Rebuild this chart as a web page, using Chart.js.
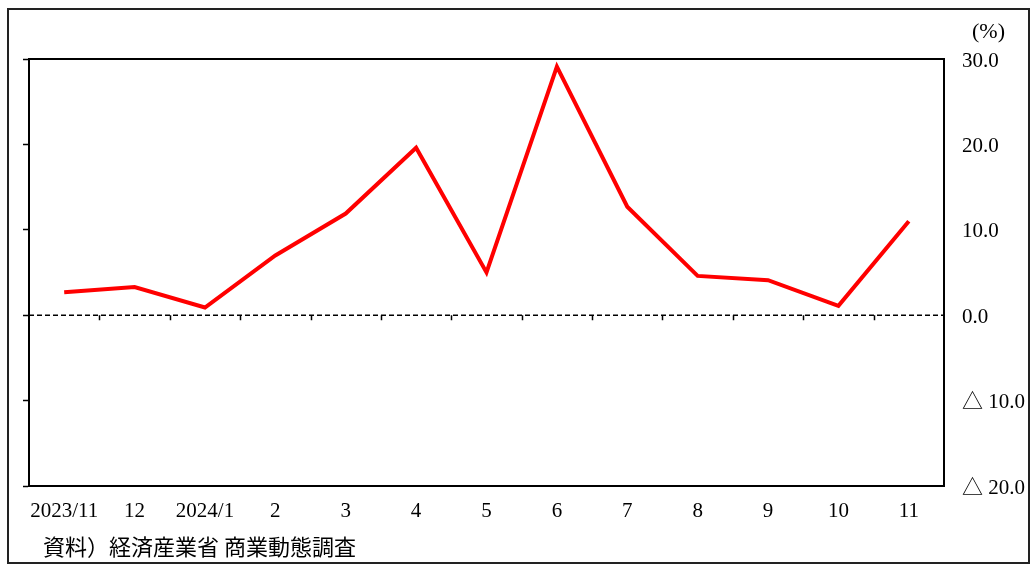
<!DOCTYPE html>
<html lang="ja">
<head>
<meta charset="utf-8">
<title>商業動態統計</title>
<script src="https://cdn.jsdelivr.net/npm/chart.js@4/dist/chart.umd.min.js"></script>
<style>
  html, body { margin: 0; padding: 0; background: #fff; }
  canvas { display: block; }
</style>
</head>
<body>
<canvas id="salesChart" width="1035" height="565"></canvas>
<script>
// Data
const categories = ['2023/11', '12', '2024/1', '2', '3', '4', '5', '6', '7', '8', '9', '10', '11'];
const growthRates = [2.7, 3.3, 0.9, 7.0, 11.9, 19.6, 5.0, 29.1, 12.7, 4.6, 4.1, 1.1, 11.0];
const yMin = -20;
const yMax = 30;
const yStep = 10;
const unitLabel = '(%)';
const sourceNote = '資料）経済産業省 商業動態調査';

const serif = "'Liberation Serif', 'Noto Sans CJK JP', serif";

// Frame, zero line, boundary ticks and texts
const framePlugin = {
  id: 'frame',
  beforeDraw(chart) {
    const ctx = chart.ctx;
    ctx.save();
    ctx.fillStyle = '#fff';
    ctx.fillRect(0, 0, chart.width, chart.height);
    ctx.strokeStyle = '#222';
    ctx.lineWidth = 2;
    ctx.strokeRect(8, 9, 1021, 554);
    ctx.restore();
  },
  beforeDatasetsDraw(chart) {
    const { ctx, chartArea } = chart;
    const x = chart.scales.x;
    const y = chart.scales.y;
    const y0 = y.getPixelForValue(0);
    ctx.save();
    // dashed zero line
    ctx.strokeStyle = '#000';
    ctx.lineWidth = 1.5;
    ctx.setLineDash([5, 3]);
    ctx.beginPath();
    ctx.moveTo(chartArea.left, y0);
    ctx.lineTo(chartArea.right, y0);
    ctx.stroke();
    ctx.setLineDash([]);
    // small ticks between categories, hanging from the zero line
    ctx.beginPath();
    for (let i = 1; i < categories.length; i++) {
      const bx = Math.round((x.getPixelForValue(i - 1) + x.getPixelForValue(i)) / 2) + 0.5;
      ctx.moveTo(bx, y0);
      ctx.lineTo(bx, y0 + 5);
    }
    ctx.stroke();
    // top edge of the plot
    ctx.lineWidth = 2;
    ctx.beginPath();
    ctx.moveTo(chartArea.left, chartArea.top);
    ctx.lineTo(chartArea.right + 1, chartArea.top);
    ctx.stroke();
    ctx.restore();
  },
  afterDraw(chart) {
    const ctx = chart.ctx;
    ctx.save();
    ctx.fillStyle = '#000';
    ctx.textBaseline = 'middle';
    ctx.font = "22px " + serif;
    ctx.fillText(unitLabel, 972, 32);
    ctx.font = "22px 'Noto Sans CJK JP', sans-serif";
    ctx.fillText(sourceNote, 43, 547);
    ctx.restore();
  }
};

new Chart(document.getElementById('salesChart'), {
  type: 'line',
  data: {
    labels: categories,
    datasets: [{
      data: growthRates,
      borderColor: '#ff0000',
      borderWidth: 4,
      pointRadius: 0,
      tension: 0,
      fill: false
    }]
  },
  options: {
    responsive: false,
    animation: false,
    layout: { padding: { top: 59, left: 0, right: 0, bottom: 0 } },
    plugins: {
      legend: { display: false },
      tooltip: { enabled: false }
    },
    scales: {
      x: {
        type: 'category',
        offset: true,
        grid: { display: false, drawTicks: false },
        border: { display: true, color: '#000', width: 2 },
        ticks: {
          color: '#000',
          font: { family: serif, size: 21 },
          padding: 13,
          autoSkip: false,
          maxRotation: 0
        },
        afterFit(scale) { scale.height = 79; }
      },
      y: {
        position: 'left',
        min: yMin,
        max: yMax,
        ticks: { stepSize: yStep, display: false },
        grid: {
          drawOnChartArea: false,
          drawTicks: true,
          tickLength: 6,
          tickColor: '#000',
          tickWidth: 1.5
        },
        border: { display: true, color: '#000', width: 2 },
        afterFit(scale) { scale.width = 29; }
      },
      y2: {
        position: 'right',
        min: yMin,
        max: yMax,
        grid: { display: false, drawTicks: false },
        border: { display: true, color: '#000', width: 2 },
        ticks: {
          stepSize: yStep,
          color: '#000',
          padding: 18,
          labelOffset: 2,
          font: { family: serif, size: 21 },
          callback: v => v < 0 ? '△ ' + Math.abs(v).toFixed(1) : v.toFixed(1)
        },
        afterFit(scale) { scale.width = 91; }
      }
    }
  },
  plugins: [framePlugin]
});
</script>
</body>
</html>
